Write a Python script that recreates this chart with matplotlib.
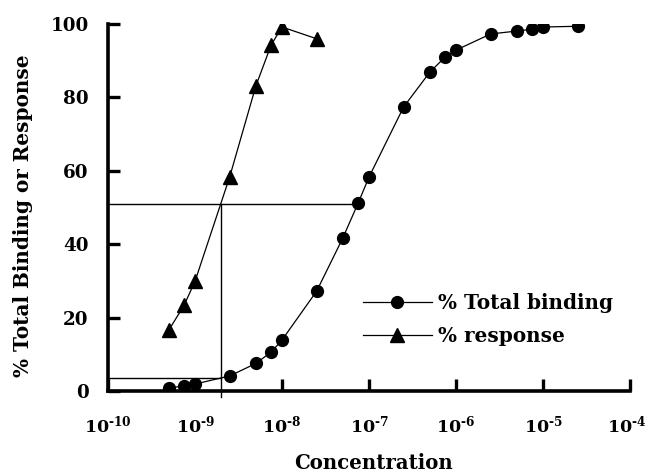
import matplotlib
matplotlib.use("Agg")
import matplotlib.pyplot as plt
from matplotlib.transforms import ScaledTranslation

plt.rcParams['font.family'] = ['DejaVu Serif']
plt.rcParams['font.weight'] = 'bold'
plt.rcParams['mathtext.fontset'] = 'custom'
plt.rcParams['mathtext.rm'] = 'DejaVu Serif:bold'
plt.rcParams['mathtext.it'] = 'DejaVu Serif:bold'
plt.rcParams['mathtext.bf'] = 'DejaVu Serif:bold'

# Data
binding_conc = [5e-10, 7.5e-10, 1e-9, 2.5e-9, 5e-9, 7.5e-9, 1e-8, 2.5e-8, 5e-8, 7.5e-8,
                1e-7, 2.5e-7, 5e-7, 7.5e-7, 1e-6, 2.5e-6, 5e-6, 7.5e-6, 1e-5, 2.5e-5]
binding_pct = [0.8, 1.4, 1.9, 4.1, 7.5, 10.6, 13.9, 27.2, 41.7, 51.2,
               58.3, 77.4, 86.9, 91.0, 92.9, 97.3, 98.1, 98.6, 99.2, 99.4]
response_conc = [5e-10, 7.5e-10, 1e-9, 2.5e-9, 5e-9, 7.5e-9, 1e-8, 2.5e-8]
response_pct = [16.6, 23.4, 29.9, 58.3, 83.1, 94.3, 99.2, 96.0]

# Reference lines (EC50 construction)
ec50_conc = 2e-9
half_level = 51.0
low_level = 3.5
half_binding_conc = 7.5e-8

x_ticks = [1e-10, 1e-9, 1e-8, 1e-7, 1e-6, 1e-5, 1e-4]
x_tick_labels = [r'$10^{\text{-}10}$', r'$10^{\text{-}9}$', r'$10^{\text{-}8}$',
                 r'$10^{\text{-}7}$', r'$10^{\text{-}6}$', r'$10^{\text{-}5}$',
                 r'$10^{\text{-}4}$']
y_ticks = [0, 20, 40, 60, 80, 100]

fig = plt.figure(figsize=(6.48, 4.72), dpi=100)
ax = fig.add_axes([0.1667, 0.1716, 0.8055, 0.7774])

ax.plot(binding_conc, binding_pct, '-', color='black', lw=0.9, marker='o',
        markersize=8.5, label='% Total binding')
ax.plot(response_conc, response_pct, '-', color='black', lw=0.9, marker='^',
        markersize=9.5, label='% response')

ax.plot([1e-10, half_binding_conc], [half_level, half_level], color='black', lw=1.0)
ax.plot([1e-10, ec50_conc], [low_level, low_level], color='black', lw=1.0)
ax.plot([ec50_conc, ec50_conc], [-1.7, half_level], color='black', lw=1.0, clip_on=False)

ax.set_xscale('log')
ax.set_xlim(1e-10, 1e-4)
ax.set_ylim(0, 100)
ax.set_xticks(x_ticks)
ax.set_xticklabels(x_tick_labels)
ax.minorticks_off()
ax.set_yticks(y_ticks)

for s in ['top', 'right']:
    ax.spines[s].set_visible(False)
for s in ['left', 'bottom']:
    ax.spines[s].set_linewidth(2.6)

ax.tick_params(axis='both', direction='in', length=8.6, width=2.4)
ax.tick_params(axis='y', pad=14, labelsize=13.2)
ax.tick_params(axis='x', pad=17, labelsize=12.5)

# nudge the last x tick label slightly left so it stays inside the figure
last = ax.get_xticklabels()[-1]
last.set_transform(last.get_transform() + ScaledTranslation(-3 / 100, 0, fig.dpi_scale_trans))

ax.set_xlabel('Concentration', fontsize=14.2, fontweight='bold', va='top')
ax.xaxis.set_label_coords(0.508, -0.168)
ax.set_ylabel('% Total Binding or Response', fontsize=14.4, fontweight='bold')
ax.yaxis.set_label_coords(-0.144, 0.477)

leg = ax.legend(loc='upper left', bbox_to_anchor=(0.488, 0.267), frameon=False,
                borderpad=0, borderaxespad=0,
                fontsize=14.4, handlelength=3.45, handletextpad=0.3, labelspacing=0.65)

fig.savefig('out.png', dpi=100)
